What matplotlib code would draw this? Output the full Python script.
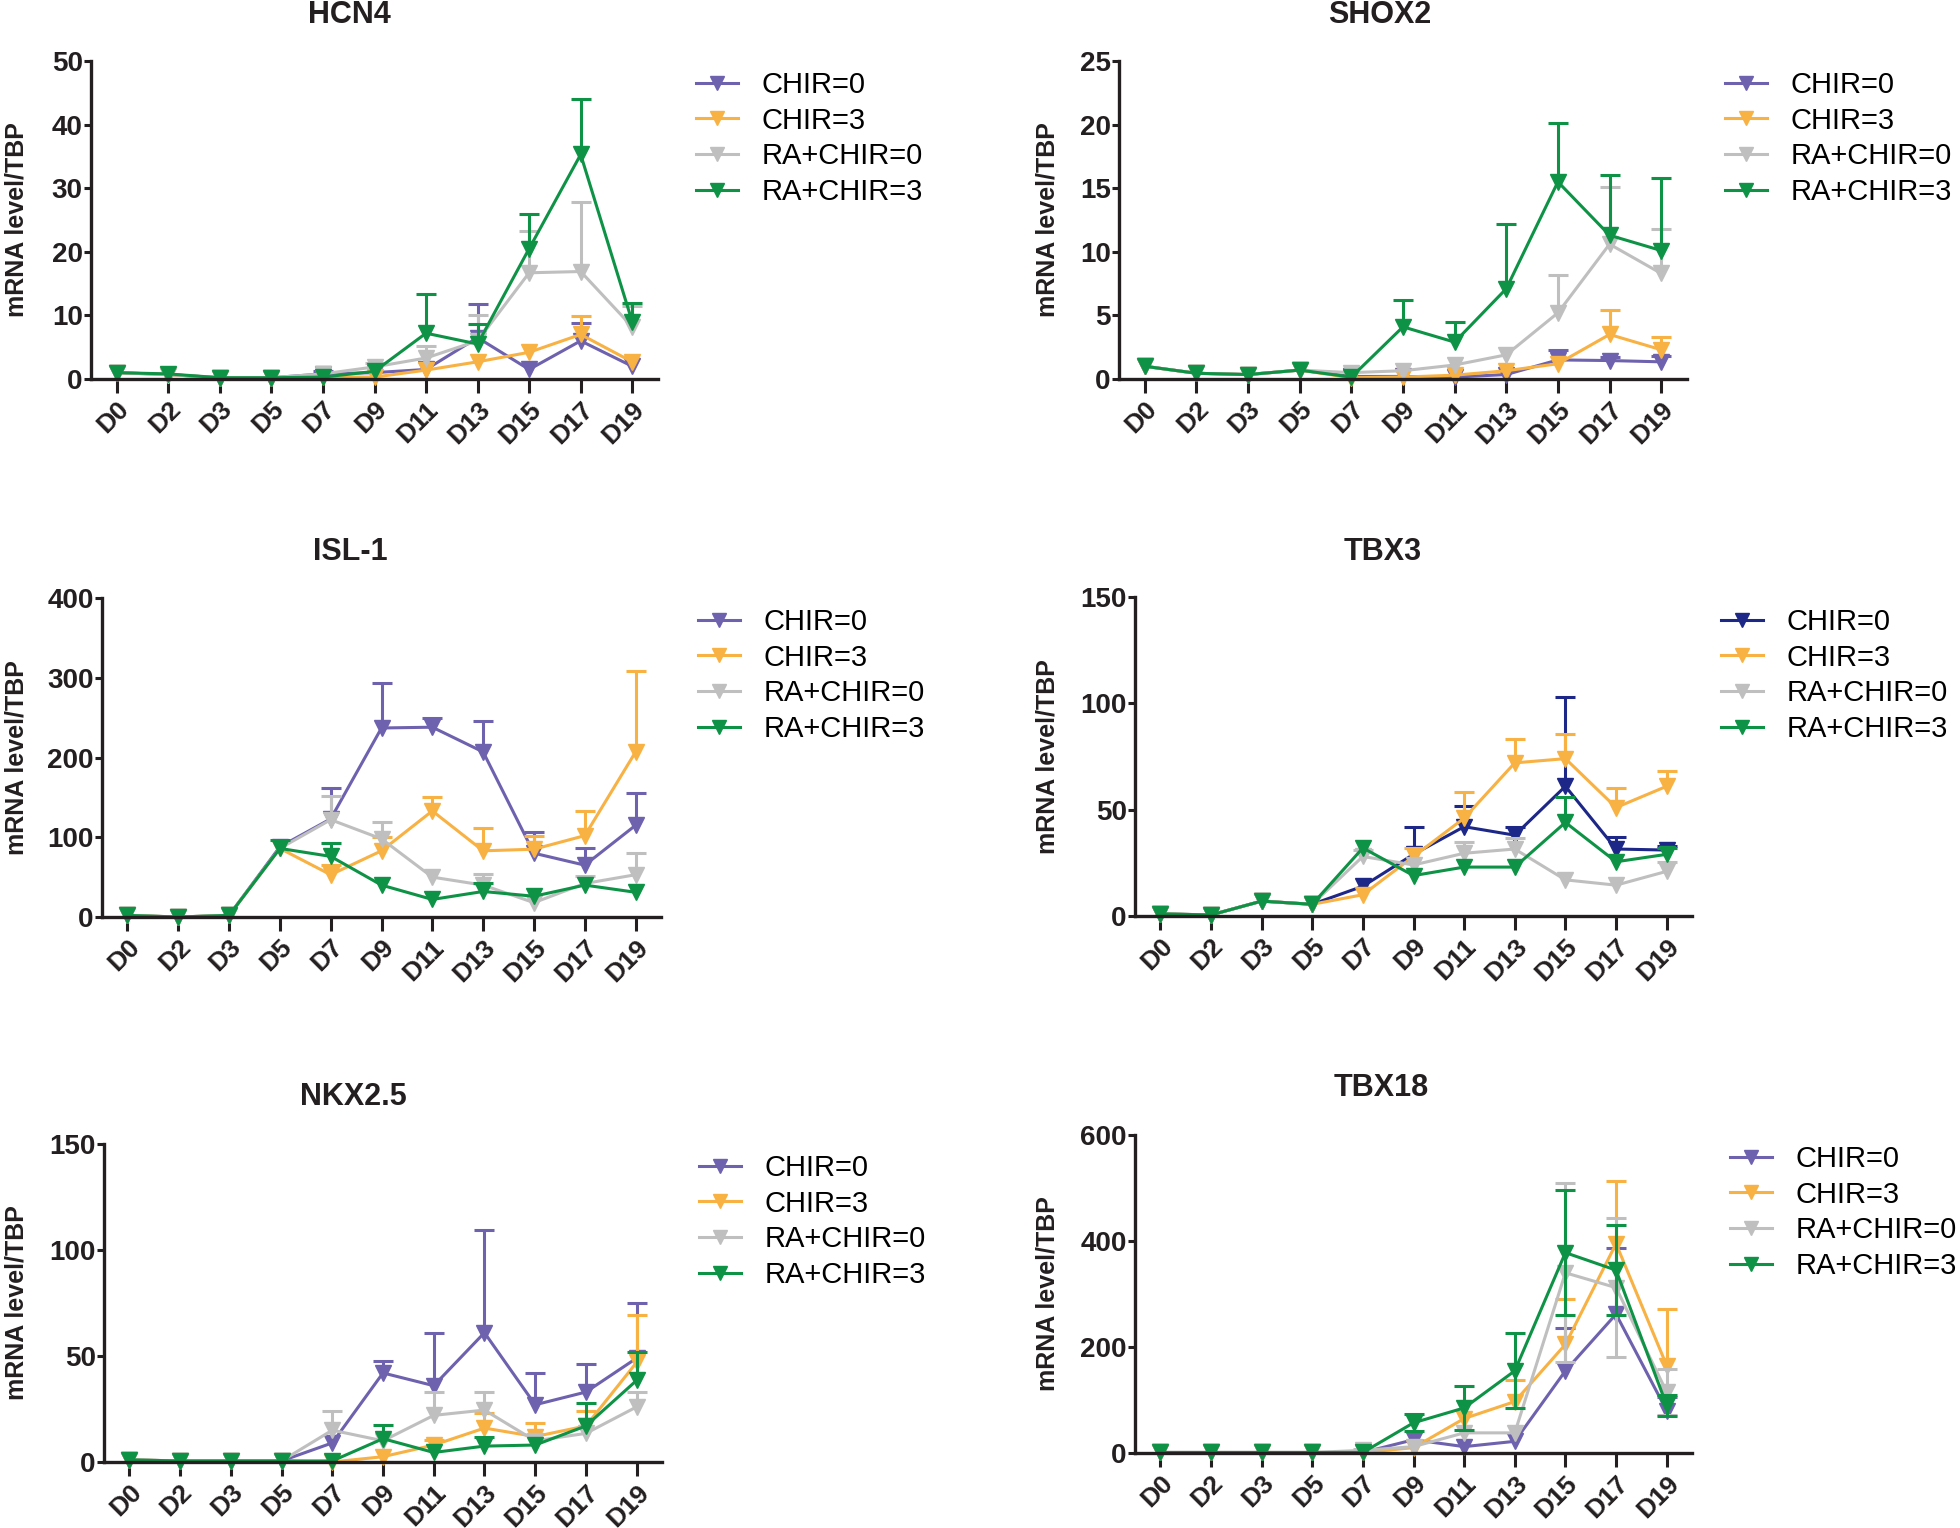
import numpy as np
import matplotlib
matplotlib.use("Agg")
import matplotlib.pyplot as plt

plt.rcParams['font.family'] = ['Liberation Sans', 'DejaVu Sans']

days = ['D0', 'D2', 'D3', 'D5', 'D7', 'D9', 'D11', 'D13', 'D15', 'D17', 'D19']
groups = ['CHIR=0', 'CHIR=3', 'RA+CHIR=0', 'RA+CHIR=3']

# order of each list: CHIR=0, CHIR=3, RA+CHIR=0, RA+CHIR=3
hcn4_mean = [
    [1.0, 0.7, 0.2, 0.2, 0.8, 1.0, 1.5, 6.5, 1.5, 6.0, 2.0],
    [1.0, 0.7, 0.2, 0.2, 0.3, 0.3, 1.4, 2.7, 4.2, 7.0, 2.7],
    [1.0, 0.7, 0.2, 0.2, 0.8, 1.9, 3.3, 6.0, 16.7, 16.9, 8.2],
    [1.0, 0.8, 0.2, 0.2, 0.3, 1.2, 7.2, 5.5, 20.5, 35.3, 9.0],
]
hcn4_err = [
    [0, 0, 0, 0, 0.4, 0, 0, 5.3, 0, 2.8, 0],
    [0, 0, 0, 0, 0, 0, 0, 0, 0, 2.9, 0],
    [0, 0, 0, 0, 0, 0.6, 1.9, 4.0, 6.6, 10.9, 3.3],
    [0, 0, 0, 0, 0, 0, 6.1, 3.2, 5.5, 8.7, 2.9],
]

shox2_mean = [
    [1.0, 0.45, 0.35, 0.7, 0.2, 0.2, 0.15, 0.35, 1.5, 1.45, 1.35],
    [1.0, 0.45, 0.35, 0.7, 0.1, 0.15, 0.3, 0.65, 1.2, 3.5, 2.3],
    [1.0, 0.45, 0.35, 0.7, 0.5, 0.65, 1.1, 1.9, 5.2, 10.6, 8.3],
    [1.0, 0.45, 0.35, 0.7, 0.15, 4.1, 2.9, 7.1, 15.5, 11.3, 10.1],
]
shox2_err = [
    [0, 0, 0, 0, 0, 0, 0, 0, 0.8, 0.3, 0.45],
    [0, 0, 0, 0, 0, 0, 0, 0, 0, 1.9, 1.0],
    [0, 0, 0, 0, 0, 0, 0, 0, 3.0, 4.5, 3.5],
    [0, 0, 0, 0, 0, 2.1, 1.6, 5.1, 4.6, 4.7, 5.7],
]

isl1_mean = [
    [2, 0, 2, 88, 123, 237, 238, 207, 80, 65, 115],
    [2, 0, 2, 86, 53, 83, 133, 83, 85, 102, 207],
    [2, 0, 2, 86, 122, 98, 50, 40, 18, 42, 53],
    [2, 0, 2, 86, 76, 40, 22, 32, 26, 40, 31],
]
isl1_err = [
    [0, 0, 0, 0, 39, 57, 12, 39, 27, 22, 41],
    [0, 0, 0, 0, 12, 17, 18, 28, 16, 31, 102],
    [0, 0, 0, 0, 30, 21, 0, 14, 0, 10, 27],
    [0, 0, 0, 11, 17, 0, 0, 11, 0, 0, 0],
]

tbx3_mean = [
    [1, 0.5, 7, 5.5, 14, 29, 42, 38, 61, 31.5, 31],
    [1, 0.5, 7, 5.5, 10, 28, 46, 72, 74, 51, 61],
    [1, 0.5, 7, 5.5, 28, 24, 29.5, 31.5, 17, 14.5, 21],
    [1, 0.5, 7, 5.5, 32, 19, 23, 23, 44, 25.5, 29],
]
tbx3_err = [
    [0, 0, 0, 0, 0, 13, 9.5, 4, 42, 5.5, 2],
    [0, 0, 0, 0, 0, 4, 12.5, 11, 11.5, 9, 7],
    [0, 0, 0, 0, 3, 0, 5.5, 5, 0, 0, 4.5],
    [0, 0, 0, 0, 0, 0, 0, 0, 12, 0, 3],
]

nkx25_mean = [
    [1, 0.5, 0.5, 0.5, 9, 42, 36, 61, 27, 33, 49],
    [1, 0.5, 0.5, 0.5, 0, 2.5, 8, 16, 12, 17, 47],
    [1, 0.5, 0.5, 0.5, 15, 10, 22, 24.5, 10, 13.5, 26],
    [1, 0.5, 0.5, 0.5, 0.5, 11, 4.5, 7.5, 8, 17, 38.5],
]
nkx25_err = [
    [0, 0, 0, 0, 0, 5.5, 25, 48.5, 15, 13, 26],
    [0, 0, 0, 0, 0, 0, 2.5, 7, 6.5, 7, 22.5],
    [0, 0, 0, 0, 9, 0, 11, 8.5, 0, 0, 7],
    [0, 0, 0, 0, 0, 6.5, 0, 4.5, 0, 11, 13.5],
]

tbx18_mean = [
    [1, 1, 1, 1, 1, 25, 12, 22, 155, 262, 80],
    [1, 1, 1, 1, 1, 10, 65, 97, 205, 395, 165],
    [1, 1, 1, 1, 5, 12, 38, 38, 340, 312, 115],
    [1, 1, 1, 1, 1, 57, 85, 155, 378, 345, 90],
]
tbx18_err = [
    [0, 0, 0, 0, 0, 0, 0, 0, 80, 125, 25],
    [0, 0, 0, 0, 0, 0, 0, 40, 85, 119, 106],
    [0, 0, 0, 0, 3, 0, 0, 0, 169, 131, 44],
    [0, 0, 0, 0, 0, 16, 41, 71, 118, 85, 20],
]

purple = '#6e61ae'
navy = '#1c2787'
orange = '#f8b143'
grey = '#bfbfbf'
green = '#0e9346'
ink = '#231f20'

W, H = 1960, 1528
fig = plt.figure(figsize=(W / 100, H / 100), dpi=100)


def panel(box, title, title_xy, means, errs, ymax, ystep, legend_xy, colors,
          two_sided=(False, False, False, False)):
    x0, x1, ytop, ybot = box
    ax = fig.add_axes([x0 / W, 1 - ybot / H, (x1 - x0) / W, (ybot - ytop) / H])
    x = np.arange(len(days))
    for m, e, c, lab, both in zip(means, errs, colors, groups, two_sided):
        m = np.array(m, float)
        e = np.array(e, float)
        ax.plot(x, m, color=c, lw=2.2, marker='v', ms=11, mec=c, mfc=c,
                label=lab, clip_on=False)
        k = e > 0
        if k.any():
            lo = e[k] if both else np.zeros(k.sum())
            eb = ax.errorbar(x[k], m[k], yerr=[lo, e[k]], fmt='none', ecolor=c,
                             elinewidth=2.2, capsize=7, capthick=2.2)
            if not both:
                eb[1][0].set_visible(False)
            for art in eb[1] + eb[2]:
                art.set_clip_on(False)
    ax.set_xlim(-0.5, 10.5)
    ax.set_ylim(0, ymax)
    ax.set_yticks(np.arange(0, ymax + 1e-9, ystep))
    ax.set_xticks(x)
    ax.set_xticklabels(days, rotation=45, ha='right', rotation_mode='anchor',
                       fontsize=19, fontweight='bold', color=ink)
    for t in ax.get_yticklabels():
        t.set_fontsize(20)
        t.set_fontweight('bold')
        t.set_color(ink)
    ax.spines['top'].set_visible(False)
    ax.spines['right'].set_visible(False)
    for s in ('left', 'bottom'):
        ax.spines[s].set_linewidth(2.4)
        ax.spines[s].set_color(ink)
    ax.tick_params(axis='y', length=5, width=2.2, color=ink, pad=1)
    ax.tick_params(axis='x', length=10, width=2.2, color=ink, pad=3)
    lab_x = 17 if x0 < 900 else 1047
    fig.text(lab_x / W, 1 - (ytop + ybot) / 2 / H, 'mRNA level/TBP', rotation=90,
             fontsize=18, fontweight='bold', color=ink, ha='center', va='center')
    fig.text(title_xy[0] / W, 1 - title_xy[1] / H, title, fontsize=22, fontweight='bold',
             color=ink, ha='center', va='center')
    ax.legend(loc='upper left', bbox_to_anchor=(legend_xy[0] / W, 1 - legend_xy[1] / H),
              bbox_transform=fig.transFigure, frameon=False, fontsize=21,
              handlelength=1.45, handletextpad=0.8, labelspacing=0.26,
              borderpad=0, borderaxespad=0, markerscale=0.9)
    return ax


std = [purple, orange, grey, green]
tbx3_cols = [navy, orange, grey, green]

panel((91, 658, 61, 379), 'HCN4', (349, 15), hcn4_mean, hcn4_err, 50, 10, (696, 71), std)
panel((1119, 1687, 61, 379), 'SHOX2', (1380, 15), shox2_mean, shox2_err, 25, 5, (1725, 71), std)
panel((102, 661, 598, 917), 'ISL-1', (350, 552), isl1_mean, isl1_err, 400, 100, (698, 608), std)
panel((1135, 1692, 597, 916), 'TBX3', (1383, 552), tbx3_mean, tbx3_err, 150, 50, (1721, 608), tbx3_cols)
panel((104, 662, 1144, 1462), 'NKX2.5', (353, 1097), nkx25_mean, nkx25_err, 150, 50, (699, 1154), std)
panel((1135, 1692, 1135, 1453), 'TBX18', (1381, 1088), tbx18_mean, tbx18_err, 600, 200, (1730, 1145), std,
      two_sided=(False, False, True, True))

fig.savefig('out.png', dpi=100)
